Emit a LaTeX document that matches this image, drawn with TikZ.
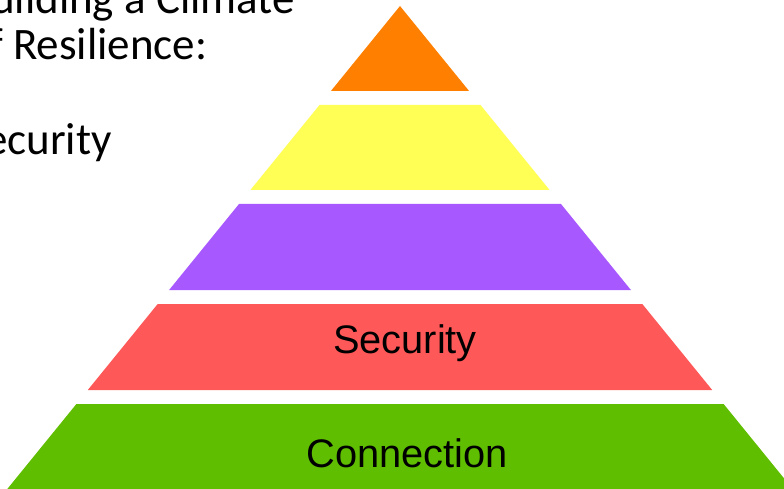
\documentclass[tikz,border=0pt]{standalone}
\usepackage{fontspec}
\usepackage{tikz}
\setmainfont{Liberation Sans}
\newfontfamily\calibri{Carlito}
\definecolor{layerorange}{RGB}{255,128,0}
\definecolor{layeryellow}{RGB}{255,255,85}
\definecolor{layerpurple}{RGB}{168,88,255}
\definecolor{layerred}{RGB}{255,88,88}
\definecolor{layergreen}{RGB}{96,190,0}

\tikzset{
    layer/.style={draw=none},
    layertext/.style={anchor=base,inner sep=0pt,font=\fontsize{39.8}{48}\selectfont},
    titletext/.style={anchor=base west,inner sep=0pt,font=\calibri\fontsize{45}{54}\selectfont}
}

\begin{document}
\begin{tikzpicture}[x=1pt,y=-1pt]
    % Cornice
    \useasboundingbox (0,0) rectangle (784,489);
    \clip (0,0) rectangle (784,489);

    % Titolo (tagliato a sinistra)
    \node[titletext] (title1) at (-9,14) {uilding a Climate};
    \node[titletext] (title2) at (-11,60) {f Resilience:};
    \node[titletext] (title3) at (-15,155) {ecurity};

    % Livelli della piramide
    \fill[layer,layerorange] (400,6) -- (469.1,91) -- (330.9,91) -- cycle;
    \fill[layer,layeryellow] (319.5,105) -- (480.5,105) -- (549.6,190) -- (250.4,190) -- cycle;
    \fill[layer,layerpurple] (239,204) -- (561,204) -- (630.9,290) -- (169.1,290) -- cycle;
    \fill[layer,layerred] (157.7,304) -- (642.3,304) -- (712.2,390) -- (87.8,390) -- cycle;
    \fill[layer,layergreen] (76.4,404) -- (723.6,404) -- (792.7,489) -- (7.3,489) -- cycle;

    % Etichette
    \node[layertext] (security) at (405,353) {Security};
    \node[layertext] (connection) at (407,467) {Connection};
\end{tikzpicture}
\end{document}
